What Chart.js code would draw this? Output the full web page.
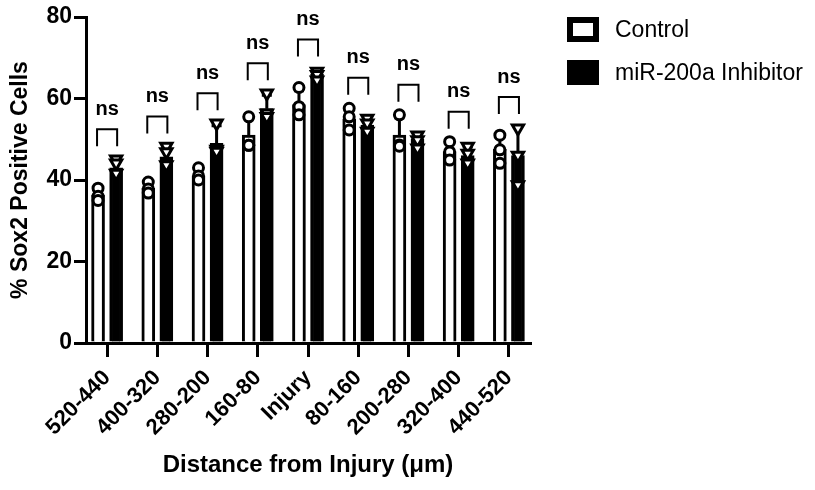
<!DOCTYPE html>
<html>
<head>
<meta charset="utf-8">
<script src="https://cdn.jsdelivr.net/npm/chart.js@4"></script>
<style>
  html, body { margin: 0; padding: 0; background: #fff; }
  #wrap { width: 815px; height: 490px; }
</style>
</head>
<body>
<div id="wrap"><canvas id="chart" width="815" height="490"></canvas></div>
<script>
// values
const categories = ['520-440', '400-320', '280-200', '160-80', 'Injury', '80-160', '200-280', '320-400', '440-520'];
const seriesNames = ['Control', 'miR-200a Inhibitor'];
const yTicks = [0, 20, 40, 60, 80];

const controlMean = [36.3, 38, 41, 51, 58.5, 55, 51, 47, 47.5];
const controlSD = [1.5, 1.4, 1.5, 4, 3.4, 2.7, 4.3, 2.3, 3.5];
const inhibitorMean = [43, 45.7, 49, 57.5, 66, 53.5, 50, 46, 46];
const inhibitorSD = [1.8, 2.3, 4.3, 3.3, 1.1, 1.6, 1.6, 2.1, 7];

const controlPoints = [
  [38, 36, 35], [39.5, 37.8, 36.8], [43, 41, 40], [55.5, 48.5, 48.5], [62.7, 58, 56],
  [57.6, 55.5, 52.3], [56, 48.6, 48.3], [49.4, 46.9, 44.9], [51, 47.4, 44.1]
];
const inhibitorPoints = [
  [45.1, 44.1, 41.6], [48.2, 46.9, 43.7], [53.9, 47.5, 47], [61.3, 56.4, 55.5], [66.6, 65.8, 64.5],
  [55.1, 53.9, 51.9], [51, 49.8, 47.8], [48.2, 46.5, 44.1], [52.7, 46, 38.8]
];
const sigLabels = ['ns', 'ns', 'ns', 'ns', 'ns', 'ns', 'ns', 'ns', 'ns'];

const shift = 0.18;
const FONT = "'Liberation Sans', Arial, sans-serif";
Chart.defaults.font.family = FONT;
Chart.defaults.color = '#000';

function barSet(label, mean, fill, dx) {
  return {
    type: 'bar', label: label,
    data: mean.map((v, i) => ({ x: i + dx, y: v })),
    backgroundColor: fill, borderColor: '#000', borderWidth: 3,
    barThickness: 13, grouped: false, borderSkipped: 'start', order: 2
  };
}
function dotSet(label, pts, style, r, rot, dx) {
  const data = [];
  pts.forEach((arr, i) => arr.forEach(v => data.push({ x: i + dx, y: v })));
  return {
    type: 'scatter', label: label, data: data,
    pointStyle: style, pointRadius: r, pointRotation: rot,
    backgroundColor: '#fff', borderColor: '#000', borderWidth: 3, order: 1
  };
}

const extras = {
  id: 'extras',
  afterDatasetDraw(chart, args) {
    if (args.index > 1) return;
    const ctx = chart.ctx, xs = chart.scales.x, ys = chart.scales.y;
    const mean = args.index === 0 ? controlMean : inhibitorMean;
    const sd = args.index === 0 ? controlSD : inhibitorSD;
    const dx = args.index === 0 ? -shift : shift;
    ctx.save();
    ctx.strokeStyle = '#000';
    ctx.lineWidth = 3;
    mean.forEach((m, i) => {
      const x = xs.getPixelForValue(i + dx);
      const y0 = ys.getPixelForValue(m), y1 = ys.getPixelForValue(m + sd[i]);
      ctx.beginPath();
      ctx.moveTo(x, y0); ctx.lineTo(x, y1);
      ctx.moveTo(x - 5, y1); ctx.lineTo(x + 5, y1);
      ctx.stroke();
    });
    ctx.restore();
  },
  afterDatasetsDraw(chart) {
    const ctx = chart.ctx, xs = chart.scales.x, ys = chart.scales.y;
    ctx.save();
    ctx.strokeStyle = '#000';
    ctx.fillStyle = '#000';
    ctx.lineWidth = 2;
    ctx.font = 'bold 20px ' + FONT;
    ctx.textAlign = 'center';
    ctx.textBaseline = 'middle';
    categories.forEach((c, i) => {
      const top = Math.max(...controlPoints[i], ...inhibitorPoints[i],
        controlMean[i] + controlSD[i], inhibitorMean[i] + inhibitorSD[i]);
      const yb = ys.getPixelForValue(top) - 13;
      const yt = yb - 17;
      const x1 = xs.getPixelForValue(i - 0.2), x2 = xs.getPixelForValue(i + 0.2);
      ctx.beginPath();
      ctx.moveTo(x1, yb); ctx.lineTo(x1, yt); ctx.lineTo(x2, yt); ctx.lineTo(x2, yb);
      ctx.stroke();
      ctx.fillText(sigLabels[i], xs.getPixelForValue(i), yt - 20);
    });

    // legend
    const bx = 567, bw = 32, bh = 25, rows = [17, 60];
    ctx.fillStyle = '#fff';
    ctx.fillRect(bx, rows[0], bw, bh);
    ctx.lineWidth = 6;
    ctx.strokeRect(bx + 3, rows[0] + 3, bw - 6, bh - 6);
    ctx.fillStyle = '#000';
    ctx.fillRect(bx, rows[1], bw, bh);
    ctx.font = '23px ' + FONT;
    ctx.textAlign = 'left';
    seriesNames.forEach((n, k) => ctx.fillText(n, 615, rows[k] + bh / 2 + 1));
    ctx.restore();
  }
};

new Chart(document.getElementById('chart'), {
  type: 'bar',
  data: {
    datasets: [
      barSet(seriesNames[0], controlMean, '#fff', -shift),
      barSet(seriesNames[1], inhibitorMean, '#000', shift),
      dotSet(seriesNames[0], controlPoints, 'circle', 5, 0, -shift),
      dotSet(seriesNames[1], inhibitorPoints, 'triangle', 6.5, 180, shift)
    ]
  },
  options: {
    responsive: false,
    animation: false,
    devicePixelRatio: 1,
    layout: { padding: { left: 0, right: 285, top: 17, bottom: 0 } },
    plugins: { legend: { display: false }, tooltip: { enabled: false } },
    scales: {
      x: {
        type: 'linear', min: -0.42, max: 8.42, offset: false,
        afterBuildTicks: s => { s.ticks = categories.map((c, i) => ({ value: i })); },
        afterFit: s => { s.height = 147; },
        ticks: {
          callback: v => categories[v],
          minRotation: 45, maxRotation: 45, autoSkip: false, padding: 8,
          font: { size: 22, weight: 'bold' }
        },
        grid: { offset: false, drawOnChartArea: false, drawTicks: true, tickLength: 14, color: '#000', lineWidth: 3 },
        border: { color: '#000', width: 3 },
        title: {
          display: true, text: 'Distance from Injury (μm)',
          font: { size: 24, weight: 'bold' }, padding: { top: 0, bottom: 10 }
        }
      },
      y: {
        min: 0, max: 80,
        afterBuildTicks: s => { s.ticks = yTicks.map(v => ({ value: v })); },
        afterFit: s => { s.width = 86; },
        ticks: { font: { size: 23, weight: 'bold' }, padding: 2 },
        grid: { drawOnChartArea: false, drawTicks: true, tickLength: 12, color: '#000', lineWidth: 3 },
        border: { color: '#000', width: 3 },
        title: {
          display: true, text: '% Sox2 Positive Cells',
          font: { size: 23, weight: 'bold' }, padding: { top: 7, bottom: 0 }
        }
      }
    }
  },
  plugins: [extras]
});
</script>
</body>
</html>
